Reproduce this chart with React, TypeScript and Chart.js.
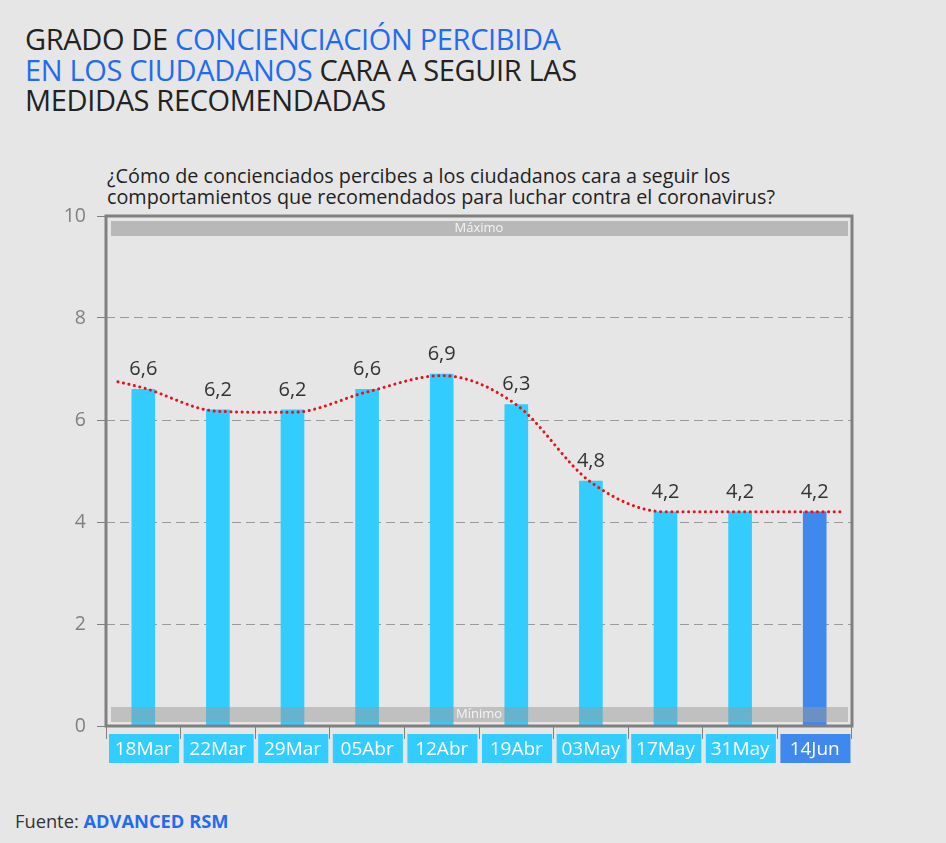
import React, { useEffect, useRef } from "react";
import { Chart, registerables } from "chart.js";

Chart.register(...registerables);

const categories = ["18Mar", "22Mar", "29Mar", "05Abr", "12Abr", "19Abr", "03May", "17May", "31May", "14Jun"];
const values = [6.6, 6.2, 6.2, 6.6, 6.9, 6.3, 4.8, 4.2, 4.2, 4.2];
const trendX = [-0.34, 0, 1, 2, 3, 4, 5, 6, 7, 8, 9, 9.34];
const trendY = [6.75, 6.63, 6.17, 6.15, 6.55, 6.87, 6.3, 4.78, 4.2, 4.2, 4.2, 4.2];
const yTickValues = [0, 2, 4, 6, 8, 10];
const highlightIndex = 9;
const bandTopLabel = "Máximo";
const bandBottomLabel = "Mínimo";

const LIGHT = "#33CCFF";
const DARK = "#3F88EE";
const FONT = "'Open Sans', 'Noto Sans', sans-serif";

const decorPlugin = {
  id: "decor",
  beforeDraw(chart: any) {
    const { ctx } = chart;
    const xs = chart.scales.x;
    const half = (xs.getPixelForValue(1) - xs.getPixelForValue(0)) / 2;
    ctx.save();
    categories.forEach((_, i) => {
      const cx = xs.getPixelForValue(i);
      ctx.fillStyle = i === highlightIndex ? DARK : LIGHT;
      ctx.fillRect(cx - half + 3, xs.top + 8, half * 2 - 4.5, 29);
    });
    ctx.restore();
  },
  afterDatasetsDraw(chart: any) {
    const { ctx, chartArea: a } = chart;
    ctx.save();
    ctx.fillStyle = "rgba(136,136,136,0.49)";
    ctx.fillRect(a.left + 5, a.top + 5, a.right - a.left - 9, 15);
    ctx.fillStyle = "rgba(152,152,152,0.49)";
    ctx.fillRect(a.left + 5, a.bottom - 19, a.right - a.left - 9, 15);
    ctx.fillStyle = "#f4f4f4";
    ctx.font = `13px ${FONT}`;
    ctx.textAlign = "center";
    ctx.textBaseline = "middle";
    const mid = (a.left + a.right) / 2;
    ctx.fillText(bandTopLabel, mid, a.top + 12.5);
    ctx.fillText(bandBottomLabel, mid, a.bottom - 11.5);
    ctx.strokeStyle = "#808080";
    ctx.lineWidth = 3;
    ctx.strokeRect(a.left, a.top, a.right - a.left, a.bottom - a.top);
    const meta = chart.getDatasetMeta(1);
    ctx.fillStyle = "#333333";
    ctx.font = `20px ${FONT}`;
    meta.data.forEach((el: any, i: number) => {
      ctx.fillText(values[i].toFixed(1).replace(".", ","), el.x, el.y - 20);
    });
    ctx.restore();
  },
};

export default function App() {
  const ref = useRef<HTMLCanvasElement>(null);
  useEffect(() => {
    document.body.style.margin = "0";
    document.body.style.background = "#e6e6e6";
    const chart = new Chart(ref.current!, {
      type: "bar",
      data: {
        labels: categories,
        datasets: [
          {
            type: "line",
            data: trendX.map((x, i) => ({ x, y: trendY[i] })),
            xAxisID: "x2",
            yAxisID: "y",
            borderColor: "#e8101a",
            borderWidth: 3,
            borderDash: [0.1, 5.5],
            borderCapStyle: "round",
            pointRadius: 0,
            cubicInterpolationMode: "monotone",
            fill: false,
            order: 0,
          } as any,
          {
            type: "bar",
            data: values,
            xAxisID: "x",
            yAxisID: "y",
            backgroundColor: values.map((_, i) => (i === highlightIndex ? DARK : LIGHT)),
            barThickness: 23,
            grouped: false,
            order: 1,
          },
        ],
      },
      options: {
        responsive: false,
        animation: false,
        layout: { padding: { left: 46, top: 76, right: 94, bottom: 14 } },
        plugins: { legend: { display: false }, tooltip: { enabled: false } },
        scales: {
          x: {
            type: "category",
            offset: true,
            afterFit: (s: any) => { s.height = 40; },
            grid: { offset: true, drawOnChartArea: false, drawTicks: true, tickLength: 13, color: "#808080" },
            border: { display: false },
            ticks: { color: "#ffffff", font: { family: FONT, size: 19 }, padding: -1, maxRotation: 0, autoSkip: false },
          },
          x2: { type: "linear", min: -0.5, max: 9.5, offset: false, display: false, grid: { offset: false } },
          y: {
            min: 0,
            max: 10,
            afterFit: (s: any) => { s.width = 60; },
            afterBuildTicks: (s: any) => { s.ticks = yTickValues.map((v) => ({ value: v })); },
            grid: { color: "#9a9a9a", tickLength: 9, tickColor: "#808080", tickBorderDash: [0, 0] } as any,
            border: { display: false, dash: [9, 5] },
            ticks: { color: "#808080", font: { family: FONT, size: 19.5 }, padding: 11 },
          },
        },
      },
      plugins: [decorPlugin],
    } as any);
    return () => chart.destroy();
  }, []);

  return (
    <div style={{ position: "relative", width: 946, height: 843, background: "#e6e6e6", fontFamily: FONT, overflow: "hidden" }}>
      <div style={{ position: "absolute", left: 25, top: 24, fontSize: 29, lineHeight: "30.5px", color: "#222", letterSpacing: "-0.35px" }}>
        GRADO DE <span style={{ color: "#1F6CF2" }}>CONCIENCIACIÓN PERCIBIDA</span>
        <br />
        <span style={{ color: "#1F6CF2" }}>EN LOS CIUDADANOS</span> CARA A SEGUIR LAS
        <br />
        MEDIDAS RECOMENDADAS
      </div>
      <div style={{ position: "absolute", left: 107, top: 165, fontSize: 19.8, lineHeight: "21px", color: "#222" }}>
        ¿Cómo de concienciados percibes a los ciudadanos cara a seguir los
        <br />
        comportamientos que recomendados para luchar contra el coronavirus?
      </div>
      <canvas ref={ref} width={946} height={640} style={{ position: "absolute", left: 0, top: 140, width: 946, height: 640 }} />
      <div style={{ position: "absolute", left: 15, top: 808, fontSize: 18.3, color: "#333" }}>
        Fuente: <b style={{ color: "#1F6CF2" }}>ADVANCED RSM</b>
      </div>
    </div>
  );
}
